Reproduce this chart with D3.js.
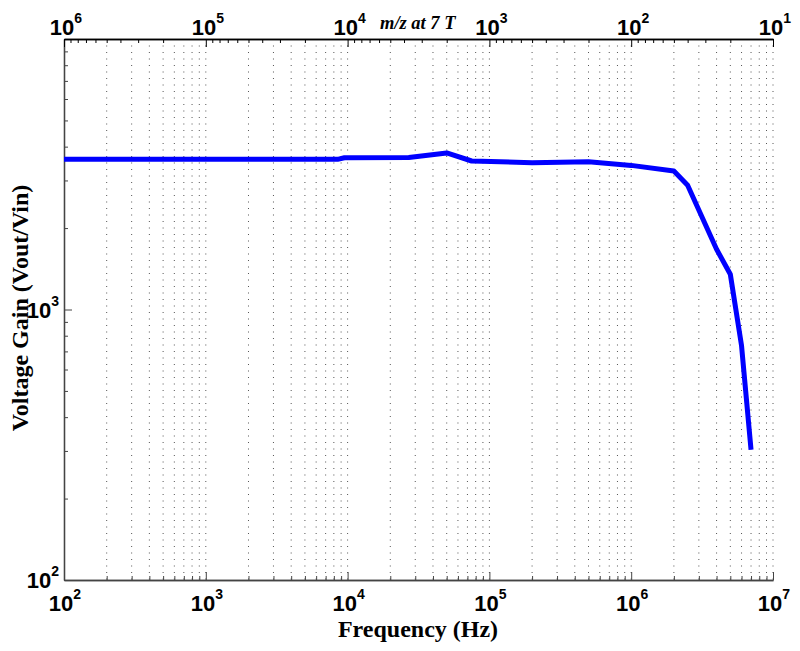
<!DOCTYPE html>
<html>
<head>
<meta charset="utf-8">
<script src="https://cdn.jsdelivr.net/npm/d3@7"></script>
<style>
  body { margin: 0; background: #fff; }
  svg { display: block; font-family: "Liberation Serif", "Times New Roman", serif; font-weight: bold; }
</style>
</head>
<body>
<svg id="plot" width="800" height="651"></svg>
<script>
// measured gain curve
const freq = [100, 8500, 9500, 27000, 50000, 75000, 200000, 500000, 1e6, 2e6, 2.5e6, 4e6, 5e6, 6e6, 7e6];
const gain = [3590, 3590, 3640, 3650, 3790, 3540, 3490, 3520, 3410, 3250, 2880, 1670, 1350, 735, 303];

// tick labels (exponents of 10)
const freqTicks = [2, 3, 4, 5, 6, 7];
const gainTicks = [2, 3];
const mzTicks = [6, 5, 4, 3, 2, 1];

const svg = d3.select('#plot');
const padL = 64, padR = 773, padT = 39, padB = 580;

const x = d3.scaleLog().domain([1e2, 1e7]).range([padL, padR]);
const y = d3.scaleLog().domain([1e2, 1e4]).range([padB, padT]);
const mz = d3.scaleLog().domain([1e6, 1e1]).range([padL, padR]);

const isMajor = v => Math.abs(Math.log10(v) - Math.round(Math.log10(v))) < 1e-9;

// vertical dotted grid
svg.append('g')
  .selectAll('line')
  .data(x.ticks().filter(v => v > 100))
  .enter()
  .append('line')
  .attr('x1', d => x(d)).attr('x2', d => x(d))
  .attr('y1', padT).attr('y2', padB)
  .attr('stroke', '#555')
  .attr('stroke-width', 1)
  .attr('stroke-dasharray', '1,5.5');

// power-of-ten label helper
function powLabel(sel, exp, anchor) {
  const t = sel.append('text')
    .attr('fill', '#000')
    .attr('text-anchor', anchor)
    .style('font-size', '22px');
  t.append('tspan').text('10');
  t.append('tspan').attr('dy', -12).style('font-size', '14px').text(exp);
  return t;
}

function styleAxis(g, color) {
  g.select('.domain').attr('stroke', color).attr('stroke-width', 1.3);
  g.selectAll('.tick line').attr('stroke', color);
  g.selectAll('.tick text').remove();
}

// bottom axis
const gx = svg.append('g').attr('transform', 'translate(0,' + padB + ')');
gx.call(d3.axisBottom(x).tickValues(x.ticks().filter(v => !isMajor(v)))
  .tickSizeInner(-4).tickSizeOuter(0).tickFormat(''));
const gx2 = svg.append('g').attr('transform', 'translate(0,' + padB + ')');
gx2.call(d3.axisBottom(x).tickValues(freqTicks.map(e => Math.pow(10, e)))
  .tickSizeInner(-8).tickSizeOuter(0).tickFormat(''));
styleAxis(gx, '#444');
styleAxis(gx2, '#444');
freqTicks.forEach(e => {
  powLabel(gx, e, 'middle').attr('x', x(Math.pow(10, e)) + 1).attr('y', 31);
});

// left axis
const gy = svg.append('g').attr('transform', 'translate(' + padL + ',0)');
gy.call(d3.axisLeft(y).tickValues(y.ticks().filter(v => !isMajor(v)))
  .tickSizeInner(-4).tickSizeOuter(0).tickFormat(''));
const gy2 = svg.append('g').attr('transform', 'translate(' + padL + ',0)');
gy2.call(d3.axisLeft(y).tickValues([1e2, 1e3, 1e4])
  .tickSizeInner(-8).tickSizeOuter(0).tickFormat(''));
styleAxis(gy, '#444');
styleAxis(gy2, '#444');
gainTicks.forEach(e => {
  powLabel(gy, e, 'end').attr('x', -5).attr('y', y(Math.pow(10, e)) + 8);
});

// top axis (m/z at 7 T)
const gt = svg.append('g').attr('transform', 'translate(0,' + padT + ')');
gt.call(d3.axisTop(mz).tickValues(mz.ticks().filter(v => !isMajor(v)))
  .tickSizeInner(-4).tickSizeOuter(0).tickFormat(''));
const gt2 = svg.append('g').attr('transform', 'translate(0,' + padT + ')');
gt2.call(d3.axisTop(mz).tickValues(mzTicks.map(e => Math.pow(10, e)))
  .tickSizeInner(-8).tickSizeOuter(0).tickFormat(''));
styleAxis(gt, '#000');
styleAxis(gt2, '#000');
mzTicks.forEach(e => {
  powLabel(gt, e, 'middle').attr('x', mz(Math.pow(10, e)) + 2).attr('y', -4);
});

// curve
const line = d3.line()
  .x((d, i) => x(freq[i]))
  .y((d, i) => y(gain[i]));
svg.append('path')
  .attr('d', line(freq))
  .attr('fill', 'none')
  .attr('stroke', '#0000ff')
  .attr('stroke-width', 5)
  .attr('stroke-linejoin', 'round');

// titles
svg.append('text')
  .attr('x', 418)
  .attr('y', 637)
  .attr('text-anchor', 'middle')
  .style('font-size', '24px')
  .text('Frequency (Hz)');

svg.append('text')
  .attr('transform', 'translate(28,308) rotate(-90)')
  .attr('text-anchor', 'middle')
  .style('font-size', '24px')
  .text('Voltage Gain (Vout/Vin)');

svg.append('text')
  .attr('x', 380)
  .attr('y', 29)
  .style('font-size', '18.5px')
  .style('font-style', 'italic')
  .text('m/z at 7 T');
</script>
</body>
</html>
